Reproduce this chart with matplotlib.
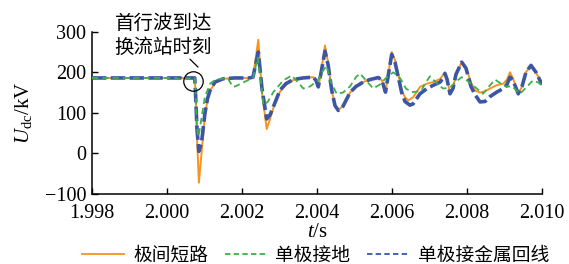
import matplotlib
matplotlib.use('Agg')
import matplotlib.pyplot as plt

plt.rcParams['font.family'] = ['Liberation Serif', 'Noto Sans CJK SC', 'DejaVu Sans']
plt.rcParams['mathtext.fontset'] = 'custom'
plt.rcParams['mathtext.rm'] = 'Liberation Serif'
plt.rcParams['mathtext.it'] = 'Liberation Serif:italic'

# 极间短路
t_pp = [1.998, 2.00074, 2.00076, 2.00080, 2.00085, 2.000925, 2.00095, 2.00101, 2.00108, 2.00115,
        2.00128, 2.0015, 2.0018, 2.0022, 2.002293, 2.002435, 2.002533, 2.002659, 2.002747, 2.00288,
        2.003013, 2.003173, 2.003368, 2.003627, 2.003901, 2.003973, 2.004035, 2.004107, 2.004213, 2.004293,
        2.004392, 2.00448, 2.004568, 2.004693, 2.00488, 2.00504, 2.005235, 2.005413, 2.005635, 2.005733,
        2.005827, 2.005893, 2.005992, 2.00608, 2.006259, 2.006347, 2.006435, 2.00656, 2.006747, 2.006933,
        2.007101, 2.007288, 2.00735, 2.007413, 2.007467, 2.007547, 2.007627, 2.007707, 2.007859, 2.007973,
        2.008107, 2.008213, 2.008347, 2.00848, 2.008613, 2.008792, 2.008968, 2.009067, 2.009147, 2.009227,
        2.009368, 2.009467, 2.009573, 2.009707, 2.00984, 2.009973, 2.010]
u_pp = [186, 186, 150, 40, -72, 5, 30, 92, 132, 155,
        174, 184, 186, 186, 188, 280, 150, 60, 85, 125,
        152, 170, 181, 186, 188, 180, 163, 200, 266, 225,
        156, 118, 106, 118, 150, 165, 176, 182, 188, 180,
        151, 190, 250, 230, 156, 138, 131, 138, 164, 172,
        176, 184, 192, 200, 185, 147, 160, 195, 225, 212,
        175, 155, 150, 153, 160, 168, 172, 182, 200, 185,
        147, 165, 200, 217, 200, 175, 170]

# 单极接地
t_pg = [1.998, 2.00026, 2.0003, 2.0005, 2.00068, 2.00074, 2.00076, 2.0008, 2.00084, 2.00089,
        2.000925, 2.00101, 2.00115, 2.0013, 2.0016, 2.001627, 2.00176, 2.00184, 2.002213, 2.002293,
        2.00242, 2.002507, 2.002568, 2.002693, 2.002835, 2.003101, 2.003325, 2.003467, 2.003635, 2.003813,
        2.004027, 2.004133, 2.004253, 2.004373, 2.004525, 2.004693, 2.00488, 2.00504, 2.005147, 2.005307,
        2.005501, 2.00568, 2.00584, 2.006035, 2.006213, 2.006373, 2.006525, 2.00664, 2.006792, 2.00688,
        2.007013, 2.007173, 2.00736, 2.007547, 2.00768, 2.007859, 2.008027, 2.008259, 2.008427, 2.008587,
        2.008747, 2.008907, 2.009059, 2.0092, 2.009413, 2.009573, 2.00976, 2.009893, 2.010]
u_pg = [186, 186, 183, 184, 186, 186, 160, 60, 41, 70,
        90, 139, 172, 182, 186, 184, 164, 166, 183, 186,
        236, 175, 119, 128, 151, 180, 192, 178, 160, 165,
        180, 200, 216, 175, 147, 150, 165, 188, 197, 180,
        160, 170, 186, 200, 186, 160, 151, 152, 156, 172,
        190, 175, 160, 162, 175, 188, 178, 160, 147, 165,
        182, 172, 164, 166, 147, 162, 180, 175, 168]

# 单极接金属回线
t_pm = [1.998, 2.00074, 2.00076, 2.00080, 2.00085, 2.000925, 2.00101, 2.00108, 2.001147, 2.00128,
        2.0015, 2.0018, 2.0022, 2.002293, 2.002435, 2.002533, 2.002659, 2.002747, 2.00288, 2.003013,
        2.003173, 2.003368, 2.003627, 2.003901, 2.003973, 2.004035, 2.004107, 2.004213, 2.004293, 2.004392,
        2.00448, 2.004568, 2.004693, 2.00488, 2.00504, 2.005235, 2.005413, 2.005635, 2.005733, 2.005827,
        2.005893, 2.005992, 2.00608, 2.006259, 2.006347, 2.00648, 2.00656, 2.006747, 2.006933, 2.007101,
        2.007288, 2.00735, 2.007413, 2.007467, 2.007547, 2.007627, 2.007707, 2.007859, 2.007973, 2.008107,
        2.008213, 2.008347, 2.00848, 2.008613, 2.008792, 2.008968, 2.009067, 2.009147, 2.009227, 2.009368,
        2.009467, 2.009573, 2.009707, 2.00984, 2.009973, 2.010]
u_pm = [186, 186, 150, 60, 5, 30, 98, 135, 155, 176,
        184, 186, 186, 188, 250, 160, 85, 95, 125, 156,
        172, 182, 186, 188, 180, 164, 198, 252, 220, 156,
        118, 106, 116, 150, 165, 176, 182, 187, 180, 151,
        188, 244, 225, 150, 128, 119, 122, 147, 160, 168,
        176, 185, 197, 183, 147, 160, 195, 225, 210, 165,
        145, 127, 128, 140, 151, 160, 170, 188, 180, 147,
        165, 200, 217, 200, 175, 170]

series_names = ['极间短路', '单极接地', '单极接金属回线']
x_ticks = [1.998, 2.000, 2.002, 2.004, 2.006, 2.008, 2.010]
y_ticks = [-100, 0, 100, 200, 300]

fig = plt.figure(figsize=(5.69, 2.64), dpi=100)
ax = fig.add_axes([0.1617, 0.265, 0.7908, 0.615])

ax.plot(t_pp, u_pp, color='#F7941D', lw=1.4, label=series_names[0], zorder=2)
ax.plot(t_pm, u_pm, color='#3D55A5', lw=2.6, dashes=(4, 1.2), label=series_names[2], zorder=3)
ax.plot(t_pg, u_pg, color='#3DAF4A', lw=1.3, dashes=(3.5, 2.2), label=series_names[1], zorder=4)

ax.set_xlim(1.998, 2.010)
ax.set_ylim(-100, 300)
ax.set_xticks(x_ticks)
ax.set_xticklabels(['%.3f' % v for v in x_ticks])
ax.set_yticks(y_ticks)
ax.set_yticklabels(['\u2212100' if v < 0 else str(v) for v in y_ticks])
ax.tick_params(direction='in', length=4, width=1.0, labelsize=14.5)
ax.tick_params(axis='x', pad=7)
ax.tick_params(axis='y', pad=4)
for s in ['top', 'right']:
    ax.spines[s].set_visible(False)
for s in ['left', 'bottom']:
    ax.spines[s].set_linewidth(1.1)

ax.set_xlabel('$t$/s', fontsize=15, labelpad=0)
ax.set_ylabel('$U_{\\mathrm{dc}}$/kV', fontsize=15, labelpad=8)

# annotation: first travelling wave arrives at converter station
ax.plot([2.000693], [178], marker='o', ms=14, mfc='none', mec='black', mew=0.9, clip_on=False, zorder=5)
ax.annotate('', xy=(2.00088, 208), xytext=(2.00056, 237),
            arrowprops=dict(arrowstyle='-', lw=0.9, color='black'), annotation_clip=False)
ax.text(1.999900, 290, '首行波到达\n换流站时刻', ha='center', va='center', fontsize=14,
        family=['Noto Sans CJK SC', 'DejaVu Sans'], linespacing=1.2, clip_on=False)

handles, labels = ax.get_legend_handles_labels()
order = [0, 2, 1]
leg = fig.legend([handles[i] for i in order], [labels[i] for i in order],
                 loc='center', bbox_to_anchor=(0.555, 0.034), ncol=3, frameon=False,
                 prop={'family': ['Noto Sans CJK SC', 'DejaVu Sans'], 'size': 13.5},
                 handlelength=2.2, handletextpad=0.5, columnspacing=0.9, borderpad=0)
for ln in leg.get_lines():
    ln.set_linewidth(1.3)
    ln.set_dashes((3, 1.8)) if ln.get_linestyle() != '-' else None

fig.savefig('out.png', dpi=100)
